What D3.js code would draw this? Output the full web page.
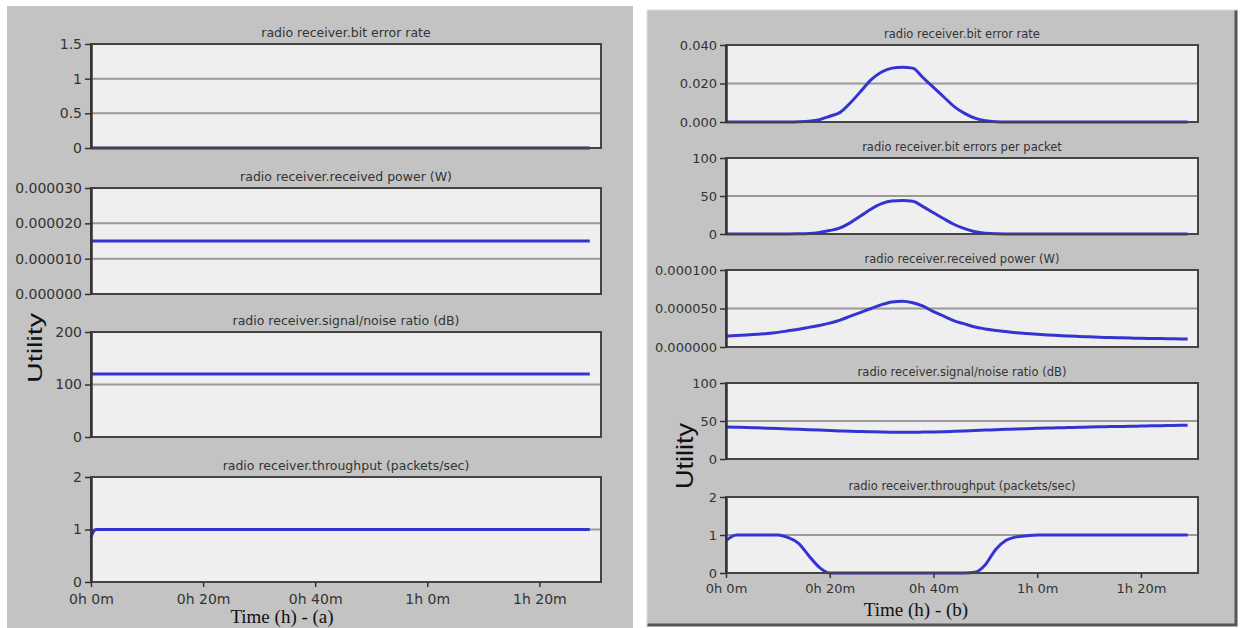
<!DOCTYPE html>
<html>
<head>
<meta charset="utf-8">
<script src="https://cdn.jsdelivr.net/npm/d3@7"></script>
<style>
  body { margin: 0; background: #fff; }
  svg text { font-family: "DejaVu Sans", Verdana, sans-serif; fill: #333; }
  .axis path, .axis line { stroke: #333; }
</style>
</head>
<body>
<div id="wrapper"></div>
<script>
// shared time axis (minutes)
var timeDomain = [0, 91];
var timeTicks = [0, 20, 40, 60, 80];
var timeTickLabels = ["0h 0m", "0h 20m", "0h 40m", "1h 0m", "1h 20m"];

// (a) left panel series
var leftTimes = [0, 0.5, 1, 89];
var leftBitErrorRate = [0, 0, 0, 0];
var leftReceivedPower = [0.000015, 0.000015, 0.000015, 0.000015];
var leftSnr = [120, 120, 120, 120];
var leftThroughput = [0.85, 0.97, 1, 1];

// (b) right panel series
var rightTimes = [0, 2, 4, 6, 8, 10, 12, 14, 16, 18, 20, 22, 24, 26, 28, 30, 32, 34, 36, 38, 40, 42, 44,
    46, 48, 50, 52, 54, 56, 58, 60, 62, 64, 66, 68, 70, 72, 74, 76, 78, 80, 82, 84, 86, 88, 89];
var rightBitErrorRate = [0, 0, 0, 0, 0, 0, 0, 0.0001, 0.0004, 0.0012, 0.003, 0.005, 0.01, 0.016, 0.022, 0.026,
    0.028, 0.0285, 0.028, 0.023, 0.018, 0.013, 0.008, 0.0045, 0.002, 0.0006, 0.0001, 0, 0, 0, 0, 0, 0,
    0, 0, 0, 0, 0, 0, 0, 0, 0, 0, 0, 0, 0];
var rightBitErrors = [0, 0, 0, 0, 0, 0, 0, 0.2, 0.6, 2, 4.5, 8, 15, 24, 33, 40, 43.5, 44, 43, 36, 28, 20,
    12.5, 7, 3, 1, 0.2, 0, 0, 0, 0, 0, 0, 0, 0, 0, 0, 0, 0, 0, 0, 0, 0, 0, 0, 0];
var rightReceivedPower = [0.000014, 0.000015, 0.0000155, 0.0000165, 0.0000175, 0.000019, 0.000021,
    0.000023, 0.0000255, 0.000028, 0.000031, 0.000035, 0.00004, 0.000045, 0.00005, 0.000055, 0.0000585,
    0.0000595, 0.0000575, 0.000053, 0.000046, 0.00004, 0.000034, 0.00003, 0.000026, 0.0000235, 0.0000215,
    0.00002, 0.0000185, 0.0000175, 0.0000165, 0.0000157, 0.000015, 0.0000143, 0.0000137, 0.0000132,
    0.0000127, 0.0000122, 0.0000119, 0.0000116, 0.0000113, 0.0000111, 0.0000109, 0.0000107, 0.0000105, 0.0000104];
var rightSnr = [42, 41.8, 41.5, 41, 40.5, 40, 39.5, 39, 38.5, 38, 37.5, 37, 36.5, 36.1, 35.8, 35.5, 35.3,
    35.2, 35.2, 35.4, 35.6, 36, 36.5, 37, 37.5, 38, 38.5, 39, 39.5, 39.9, 40.3, 40.7, 41, 41.4, 41.7, 42,
    42.3, 42.6, 42.8, 43.1, 43.3, 43.6, 43.8, 44.1, 44.3, 44.4];
var rightThroughput = [0.85, 1, 1, 1, 1, 1, 0.93, 0.78, 0.45, 0.15, 0, 0, 0, 0, 0, 0, 0, 0, 0, 0, 0, 0, 0,
    0, 0.02, 0.22, 0.62, 0.86, 0.95, 0.98, 1, 1, 1, 1, 1, 1, 1, 1, 1, 1, 1, 1, 1, 1, 1, 1];

// y tick values
var berTicksA = [0, 0.5, 1, 1.5];
var powerTicksA = [0, 0.00001, 0.00002, 0.00003];
var snrTicksA = [0, 100, 200];
var tputTicks = [0, 1, 2];
var berTicksB = [0, 0.02, 0.04];
var bitErrTicksB = [0, 50, 100];
var powerTicksB = [0, 0.00005, 0.0001];
var snrTicksB = [0, 50, 100];

var W = 1240, H = 628;
var svg = d3.select("#wrapper").append("svg").attr("width", W).attr("height", H);
svg.append("rect").attr("width", W).attr("height", H).attr("fill", "#fff");

var panels = [
    {
        box: {x: 7, y: 6, w: 626, h: 622}, plotX: [91, 601], times: leftTimes,
        fontTick: 14, fontTitle: 12.5, titleGap: 7, xPad: 7,
        plots: [
            {title: "radio receiver.bit error rate", top: 44, bottom: 148, ticks: berTicksA, fmt: d3.format(""), values: leftBitErrorRate, color: "#25257a"},
            {title: "radio receiver.received power (W)", top: 188, bottom: 294, ticks: powerTicksA, fmt: d3.format(".6f"), values: leftReceivedPower},
            {title: "radio receiver.signal/noise ratio (dB)", top: 332, bottom: 437, ticks: snrTicksA, fmt: d3.format(""), values: leftSnr},
            {title: "radio receiver.throughput (packets/sec)", top: 477, bottom: 582, ticks: tputTicks, fmt: d3.format(""), values: leftThroughput}
        ],
        xlabel: "Time (h) - (a)", xlabelPos: [282, 623],
        utility: {x: 42, y: 348, size: 20, len: 70}
    },
    {
        box: {x: 647, y: 10, w: 590, h: 616}, plotX: [726, 1198], times: rightTimes,
        fontTick: 13, fontTitle: 11.5, titleGap: 7, xPad: 6,
        plots: [
            {title: "radio receiver.bit error rate", top: 45, bottom: 122, ticks: berTicksB, fmt: d3.format(".3f"), values: rightBitErrorRate},
            {title: "radio receiver.bit errors per packet", top: 158, bottom: 234, ticks: bitErrTicksB, fmt: d3.format(""), values: rightBitErrors},
            {title: "radio receiver.received power (W)", top: 270, bottom: 347, ticks: powerTicksB, fmt: d3.format(".6f"), values: rightReceivedPower},
            {title: "radio receiver.signal/noise ratio (dB)", top: 383, bottom: 459, ticks: snrTicksB, fmt: d3.format(""), values: rightSnr},
            {title: "radio receiver.throughput (packets/sec)", top: 497, bottom: 573, ticks: tputTicks, fmt: d3.format(""), values: rightThroughput}
        ],
        xlabel: "Time (h) - (b)", xlabelPos: [916, 616],
        utility: {x: 693, y: 456, size: 24, len: 66}
    }
];

var drawPanel = function(p, idx) {
    var g = svg.append("g");

    g.append("rect")
        .attr("x", p.box.x).attr("y", p.box.y)
        .attr("width", p.box.w).attr("height", p.box.h)
        .attr("fill", "#c3c3c3");

    if (idx === 1) {
        // darker frame on the right and bottom of panel (b)
        g.append("path")
            .attr("d", "M" + (p.box.x + p.box.w - 1) + "," + p.box.y + "V" + (p.box.y + p.box.h - 1) + "H" + p.box.x)
            .attr("fill", "none").attr("stroke", "#555").attr("stroke-width", 3);
        g.append("path")
            .attr("d", "M" + p.box.x + "," + (p.box.y + p.box.h) + "V" + p.box.y + "H" + (p.box.x + p.box.w))
            .attr("fill", "none").attr("stroke", "#ddd").attr("stroke-width", 1);
    }

    var x = d3.scaleLinear().domain(timeDomain).range(p.plotX);

    p.plots.forEach(function(pl, i) {
        var y = d3.scaleLinear().domain(d3.extent(pl.ticks)).range([pl.bottom, pl.top]);
        var pg = g.append("g");

        pg.append("rect")
            .attr("x", p.plotX[0]).attr("y", pl.top)
            .attr("width", p.plotX[1] - p.plotX[0]).attr("height", pl.bottom - pl.top)
            .attr("fill", "#efefef");

        // gridlines at interior ticks
        pg.selectAll("line.grid")
            .data(pl.ticks.slice(1, -1))
            .enter()
            .append("line")
            .attr("x1", p.plotX[0]).attr("x2", p.plotX[1])
            .attr("y1", function(d) { return y(d); })
            .attr("y2", function(d) { return y(d); })
            .attr("stroke", "#9a9a9a")
            .attr("stroke-width", 2);

        // title
        pg.append("text")
            .attr("x", (p.plotX[0] + p.plotX[1]) / 2)
            .attr("y", pl.top - p.titleGap)
            .attr("text-anchor", "middle")
            .style("font-size", p.fontTitle + "px")
            .text(pl.title);

        // series line
        var line = d3.line()
            .x(function(d, j) { return x(p.times[j]); })
            .y(function(d) { return y(d); })
            .curve(d3.curveMonotoneX);

        pg.append("path")
            .datum(pl.values)
            .attr("d", line)
            .attr("fill", "none")
            .attr("stroke", pl.color || "#3434d2")
            .attr("stroke-width", 3)
            .attr("stroke-linejoin", "round");

        // frame
        pg.append("rect")
            .attr("x", p.plotX[0]).attr("y", pl.top)
            .attr("width", p.plotX[1] - p.plotX[0]).attr("height", pl.bottom - pl.top)
            .attr("fill", "none")
            .attr("stroke", "#444")
            .attr("stroke-width", 2);

        // y axis
        var ax = pg.append("g")
            .attr("class", "axis")
            .attr("transform", "translate(" + p.plotX[0] + ",0)")
            .call(d3.axisLeft(y).tickValues(pl.ticks).tickFormat(pl.fmt).tickSize(6).tickSizeOuter(0).tickPadding(3));
        ax.select(".domain").attr("stroke-width", 2.5).attr("stroke", "#333");
        ax.selectAll(".tick line").attr("stroke-width", 1.5);
        ax.selectAll("text").style("font-size", p.fontTick + "px").attr("fill", "#333");

        // x axis on the last plot only
        if (i === p.plots.length - 1) {
            var xa = pg.append("g")
                .attr("class", "axis")
                .attr("transform", "translate(0," + pl.bottom + ")")
                .call(d3.axisBottom(x).tickValues(timeTicks)
                    .tickFormat(function(d, k) { return timeTickLabels[k]; })
                    .tickSize(5).tickSizeOuter(0).tickPadding(p.xPad));
            xa.select(".domain").remove();
            xa.selectAll(".tick line").attr("stroke-width", 1.5);
            xa.selectAll("text").style("font-size", p.fontTick + "px").attr("fill", "#333");
        }
    });

    g.append("text")
        .attr("x", p.xlabelPos[0]).attr("y", p.xlabelPos[1])
        .attr("text-anchor", "middle")
        .style("font-family", "'Liberation Serif', 'Times New Roman', serif")
        .style("font-size", "19px")
        .style("fill", "#111")
        .text(p.xlabel);

    g.append("text")
        .attr("transform", "translate(" + p.utility.x + "," + p.utility.y + ") rotate(-90)")
        .attr("text-anchor", "middle")
        .attr("textLength", p.utility.len)
        .attr("lengthAdjust", "spacingAndGlyphs")
        .style("font-family", "'Liberation Sans', Arial, sans-serif")
        .style("font-size", p.utility.size + "px")
        .style("fill", "#111")
        .text("Utility");
};

panels.forEach(drawPanel);
</script>
</body>
</html>
